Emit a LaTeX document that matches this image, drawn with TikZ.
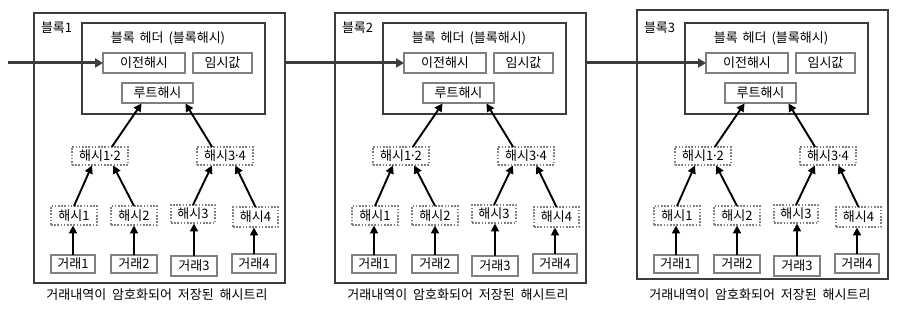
\documentclass[tikz,border=0pt]{standalone}
\usepackage{fontspec}
\setmainfont{Noto Sans CJK KR}
\newfontfamily\latinfont{Noto Sans}
\usetikzlibrary{arrows.meta,calc}
\definecolor{boxdark}{HTML}{3C3C3C}
\definecolor{boxgrey}{HTML}{7F7F7F}
\definecolor{hashgrey}{HTML}{808080}
\newcommand\md{{\latinfont\char"00B7}}
\tikzset{
  outerbox/.style={draw=boxdark, line width=2.8pt},
  headerbox/.style={draw=boxdark, line width=2.8pt},
  fieldbox/.style={draw=boxgrey, line width=1.8pt},
  hashbox/.style={draw=hashgrey, line width=1.4pt, dash pattern=on 1.6pt off 1.6pt},
  txbox/.style={draw=boxgrey, line width=1.8pt},
  treearrow/.style={draw=black, line width=1.9pt, -{Triangle[length=8pt,width=8pt]}, shorten >=0.5pt},
  chainarrow/.style={draw=boxdark, line width=3pt, -{Triangle[length=8pt,width=9pt]}},
  every node/.style={font=\fontsize{13}{15}\selectfont, inner sep=0pt, outer sep=0pt},
}
% box node: name, style, x1, x2, y1, y2, text
\newcommand\bbox[7]{%
  \node[#2, minimum width={(#4-#3)*1pt}, minimum height={(#6-#5)*1pt}]
    (#1) at ({(#3+#4)/2},{(#5+#6)/2}) {#7};}
% block: prefix, left x, number, top, bottom
\newcommand\drawblock[5]{%
\begin{scope}[shift={(#2,0)}]
  \bbox{#1o}{outerbox}{0}{251}{#4}{#5}{}
  \bbox{#1h}{headerbox}{48}{231}{23}{114}{}
  \node[anchor=west] (#1l) at (7,28) {블록#3};
  \node (#1t) at (134,38) {블록\hspace{2pt} 헤더\hspace{2pt} (블록해시)};
  \bbox{#1p}{fieldbox}{69}{151}{53}{73}{이전해시}
  \bbox{#1n}{fieldbox}{159}{218}{53}{73}{임시값}
  \bbox{#1r}{fieldbox}{88}{159}{83}{103}{루트해시}
  \bbox{#1a}{hashbox}{38}{94}{147}{165}{해시1\md2}
  \bbox{#1b}{hashbox}{163}{219}{147}{165}{해시3\md4}
  \bbox{#1h1}{hashbox}{17}{63}{206}{225}{해시1}
  \bbox{#1h2}{hashbox}{77}{123}{206}{225}{해시2}
  \bbox{#1h3}{hashbox}{137}{181}{205}{223}{해시3}
  \bbox{#1h4}{hashbox}{199}{244}{207}{227}{해시4}
  \bbox{#1t1}{txbox}{17}{61}{255}{273}{거래1}
  \bbox{#1t2}{txbox}{77}{123}{255}{273}{거래2}
  \bbox{#1t3}{txbox}{137}{183}{256}{276}{거래3}
  \bbox{#1t4}{txbox}{198}{242}{254}{273}{거래4}
  \node (#1c) at (123,295) {거래내역이\hspace{3pt} 암호화되어\hspace{3pt} 저장된\hspace{3pt} 해시트리};
  % tree arrows
  \draw[treearrow] ($(#1a.north west)!0.71!(#1a.north east)$) -- ($(#1r.south west)!0.28!(#1r.south east)$);
  \draw[treearrow] ($(#1b.north west)!0.27!(#1b.north east)$) -- ($(#1r.south west)!0.89!(#1r.south east)$);
  \draw[treearrow] (#1h1.north) -- ($(#1a.south west)!0.36!(#1a.south east)$);
  \draw[treearrow] (#1h2.north) -- ($(#1a.south west)!0.73!(#1a.south east)$);
  \draw[treearrow] (#1h3.north) -- ($(#1b.south west)!0.27!(#1b.south east)$);
  \draw[treearrow] (#1h4.north) -- ($(#1b.south west)!0.68!(#1b.south east)$);
  \draw[treearrow] (#1t1.north) -- (#1t1.north |- #1h1.south);
  \draw[treearrow] (#1t2.north) -- (#1t2.north |- #1h2.south);
  \draw[treearrow] (#1t3.north) -- (#1t3.north |- #1h3.south);
  \draw[treearrow] (#1t4.north) -- (#1t4.north |- #1h4.south);
\end{scope}}
\begin{document}
\begin{tikzpicture}[x=1pt, y=-1pt]
  \useasboundingbox (0,0) rectangle (902,312);
  \drawblock{A}{34}{1}{13}{283}
  \drawblock{B}{335}{2}{13}{283}
  \drawblock{C}{637}{3}{10}{279}
  \coordinate (in) at (8,63);
  \draw[chainarrow] (in) -- (Ap.west);
  \draw[chainarrow] (Ao.east |- Bp.west) -- (Bp.west);
  \draw[chainarrow] (Bo.east |- Cp.west) -- (Cp.west);
\end{tikzpicture}
\end{document}
